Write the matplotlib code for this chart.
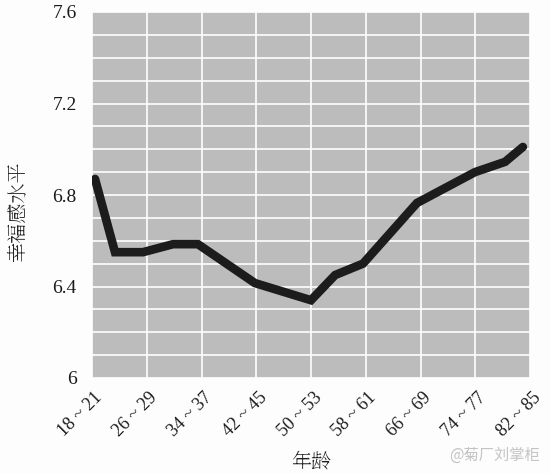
import numpy as np
import matplotlib
matplotlib.use("Agg")
import matplotlib.pyplot as plt
from matplotlib.transforms import ScaledTranslation

plt.rcParams['font.family'] = ['Liberation Serif', 'Noto Serif SC', 'Noto Sans CJK SC', 'DejaVu Sans']

# age groups on the x axis (every second one is labelled)
age_groups = ['18 ~ 21', '22 ~ 25', '26 ~ 29', '30 ~ 33', '34 ~ 37', '38 ~ 41',
              '42 ~ 45', '46 ~ 49', '50 ~ 53', '54 ~ 57', '58 ~ 61', '62 ~ 65',
              '66 ~ 69', '70 ~ 73', '74 ~ 77', '78 ~ 81', '82 ~ 85']
# line vertices, in age-group index units
group_pos = [0.11, 0.84, 1.86, 2.96, 3.87, 5.95, 8.0, 8.88, 9.9, 11.87, 13.99, 15.09, 15.74]
happiness = [6.87, 6.55, 6.55, 6.585, 6.585, 6.415, 6.34, 6.45, 6.50, 6.765, 6.90, 6.945, 7.01]

y_major = [6, 6.4, 6.8, 7.2, 7.6]
y_labels = ['6', '6.4', '6.8', '7.2', '7.6']

fig = plt.figure(figsize=(5.5, 4.74), dpi=100, facecolor='#fdfdfd')
ax = fig.add_axes([92/550, 1-378/474, 438/550, 366/474])
ax.set_facecolor('#bcbcbc')

ax.plot(group_pos, happiness, color='#1c1c1c', lw=6.2,
        solid_capstyle='round', solid_joinstyle='miter', zorder=3)

ax.set_xlim(0, len(age_groups) - 1)
ax.set_ylim(6, 7.6)
ax.set_xticks(np.arange(0, len(age_groups), 2))
ax.set_xticklabels(age_groups[::2], rotation=45, ha='right', va='top',
                   rotation_mode='anchor', fontsize=13, family='Liberation Serif',
                   color='#1a1a1a')
ax.set_yticks(y_major)
ax.set_yticklabels(y_labels, fontsize=14, family='Liberation Serif', color='#1a1a1a')
ax.set_yticks(np.arange(6, 7.61, 0.1), minor=True)
ax.tick_params(which='both', length=0)
ax.tick_params(axis='y', pad=11)
ax.tick_params(axis='x', pad=4)
for lbl in ax.get_xticklabels():
    lbl.set_transform(lbl.get_transform() + ScaledTranslation(1.5/72, -4/72, fig.dpi_scale_trans))

ax.grid(True, which='both', color='white', lw=1.2)
ax.set_axisbelow(True)
for s in ax.spines.values():
    s.set_visible(False)

fig.text(18/550, 1-212/474, '幸福感水平', rotation=90, ha='center', va='center',
         fontsize=14.5, family='Noto Serif SC', color='#222222')
fig.text(311/550, 1-462/474, '年龄', ha='center', va='center',
         fontsize=14.5, family='Noto Serif SC', color='#222222')
fig.text(540/550, 1-455/474, '@菊厂刘掌柜', ha='right', va='center',
         fontsize=11, family='Noto Sans CJK SC', color='#c4c4c4')

fig.savefig('out.png', dpi=100, facecolor=fig.get_facecolor())
